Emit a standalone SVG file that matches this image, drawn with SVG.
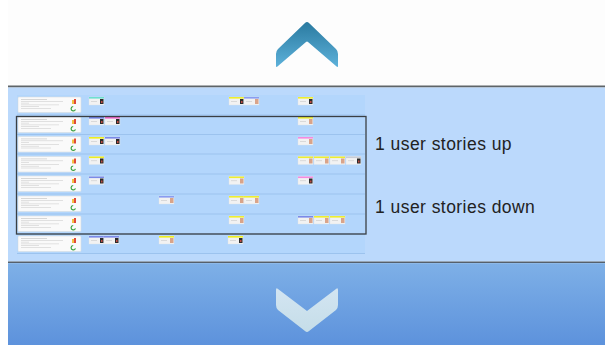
<svg xmlns="http://www.w3.org/2000/svg" xmlns:xlink="http://www.w3.org/1999/xlink" width="605" height="345" viewBox="0 0 605 345">
<style>
.lbl{font-family:"Liberation Sans",Arial,sans-serif;font-size:17.5px;letter-spacing:0.45px;fill:#222}
.row{stroke:#9cc3ee;stroke-width:1}
.tl{fill:#cfcfcf}
</style>
<defs>
<linearGradient id="gUp" x1="0" y1="0" x2="0" y2="1"><stop offset="0" stop-color="#2a7aa0"/><stop offset="1" stop-color="#5db1da"/></linearGradient>
<linearGradient id="gBot" x1="0" y1="0" x2="0" y2="1"><stop offset="0" stop-color="#7eb0e7"/><stop offset="1" stop-color="#5d92dc"/></linearGradient>
<linearGradient id="gDown" x1="0" y1="0" x2="0" y2="1"><stop offset="0" stop-color="#d3e5f2"/><stop offset="1" stop-color="#c5dde8"/></linearGradient>
<symbol id="lc" overflow="visible">
<rect x="0" y="0" width="63" height="15.5" rx="1" fill="#fafafa" stroke="#d8dde3" stroke-width="0.6"/>
<rect class="tl" x="3" y="2" width="26" height="0.8"/>
<rect class="tl" x="3" y="4" width="42" height="0.6"/>
<rect class="tl" x="3" y="5.8" width="8" height="0.6"/>
<rect class="tl" x="3" y="7.6" width="38" height="0.6"/>
<rect class="tl" x="3" y="9.4" width="18" height="0.6"/>
<rect class="tl" x="3" y="11.2" width="30" height="0.6"/>
<rect x="54" y="3" width="2" height="4" fill="#f3c040"/>
<rect x="56" y="2" width="2" height="5" fill="#e04a3a"/>
<path d="M55.2 9.5 a2.2 2.2 0 1 0 2.2 2.8" fill="none" stroke="#3aa040" stroke-width="1.2"/>
</symbol>
<symbol id="cp" overflow="visible">
<rect x="0" y="0" width="15" height="8" fill="#f2f2f2" stroke="#dde3ea" stroke-width="0.4"/>
<rect x="0" y="0" width="15" height="1.6" fill="currentColor"/>
<rect x="2" y="4" width="6" height="0.6" fill="#c8c8c8"/>
<rect x="11" y="2" width="3.5" height="5" fill="#d9a48a"/>
</symbol>
<symbol id="cd" overflow="visible">
<rect x="0" y="0" width="15" height="8" fill="#f2f2f2" stroke="#dde3ea" stroke-width="0.4"/>
<rect x="0" y="0" width="15" height="1.6" fill="currentColor"/>
<rect x="2" y="4" width="6" height="0.6" fill="#c8c8c8"/>
<rect x="11" y="2" width="3.5" height="5" fill="#2b2b2b"/>
<rect x="12" y="4" width="1.5" height="2" fill="#c04a40"/>
</symbol>
</defs>
<rect width="605" height="345" fill="#ffffff"/>
<rect x="8" y="0" width="597" height="86" fill="#fdfdfd"/>
<g id="up-button">
<path d="M278 49 L305 23 Q307 21 309 23 L336 49 Q338 51 338 54 L338 66 Q338 68 336 66 L308 42 Q307 41 306 42 L278 66 Q276 68 276 66 L276 54 Q276 51 278 49 Z" fill="url(#gUp)"/>
</g>
<rect x="8" y="85.5" width="597" height="2" fill="#5e6468"/>
<rect x="8" y="87.5" width="597" height="174" fill="#bbd9fc"/>
<g id="board">
<rect x="17" y="95" width="348" height="159" fill="#b3d6fc"/>
<g class="rows">
<line class="row" x1="17" y1="115" x2="365" y2="115"/>
<line class="row" x1="17" y1="134.5" x2="365" y2="134.5"/>
<line class="row" x1="17" y1="154" x2="365" y2="154"/>
<line class="row" x1="17" y1="174" x2="365" y2="174"/>
<line class="row" x1="17" y1="194" x2="365" y2="194"/>
<line class="row" x1="17" y1="214" x2="365" y2="214"/>
<line class="row" x1="17" y1="234" x2="365" y2="234"/>
<line class="row" x1="17" y1="253.5" x2="365" y2="253.5"/>
</g>
<g id="stories">
<use href="#lc" x="18" y="97"/>
<use href="#lc" x="18" y="117"/>
<use href="#lc" x="18" y="136.5"/>
<use href="#lc" x="18" y="156.5"/>
<use href="#lc" x="18" y="176"/>
<use href="#lc" x="18" y="196"/>
<use href="#lc" x="18" y="216"/>
<use href="#lc" x="18" y="236"/>
</g>
<g id="tasks">
<use href="#cd" x="89" y="97" color="#6fe0cf"/>
<use href="#cd" x="229" y="97" color="#eeee30"/>
<use href="#cp" x="244" y="97" color="#8a9cf0"/>
<use href="#cd" x="298" y="97" color="#eeee30"/>
<use href="#cd" x="89" y="117" color="#6f80e6"/>
<use href="#cd" x="105" y="117" color="#ee66c8"/>
<use href="#cp" x="298" y="117" color="#eeee30"/>
<use href="#cd" x="89" y="137" color="#eeee20"/>
<use href="#cd" x="105" y="137" color="#7b8ae8"/>
<use href="#cp" x="298" y="137" color="#f58ae0"/>
<use href="#cd" x="89" y="156.5" color="#eeee20"/>
<use href="#cp" x="298" y="156.5" color="#eeee30"/>
<use href="#cp" x="314" y="156.5" color="#eeee30"/>
<use href="#cp" x="330" y="156.5" color="#eeee30"/>
<use href="#cd" x="346" y="156.5" color="#c8ccd4"/>
<use href="#cd" x="89" y="176.5" color="#7b8ae8"/>
<use href="#cp" x="229" y="176.5" color="#eeee30"/>
<use href="#cd" x="298" y="176.5" color="#f58ae0"/>
<use href="#cp" x="159" y="196" color="#8a9cf0"/>
<use href="#cp" x="229" y="196" color="#eeee30"/>
<use href="#cp" x="244" y="196" color="#eeee30"/>
<use href="#cp" x="229" y="216" color="#eeee30"/>
<use href="#cp" x="298" y="216" color="#7b8ae8"/>
<use href="#cp" x="314" y="216" color="#eeee30"/>
<use href="#cp" x="330" y="216" color="#eeee30"/>
<use href="#cd" x="89" y="236" color="#7b8ae8"/>
<use href="#cd" x="104" y="236" color="#7b8ae8"/>
<use href="#cp" x="159" y="236" color="#eeee20"/>
<use href="#cd" x="228" y="236" color="#eeee20"/>
</g>
<rect id="selection" x="16.5" y="116.5" width="349.5" height="117.5" fill="none" stroke="#3a3f44" stroke-width="1.3"/>
</g>
<text class="lbl" x="375" y="150">1 user stories up</text>
<text class="lbl" x="375" y="213">1 user stories down</text>
<rect x="8" y="261.5" width="597" height="1.5" fill="#55606c"/>
<rect x="8" y="263" width="597" height="82" fill="url(#gBot)"/>
<rect x="8" y="263" width="597" height="1" fill="#8dbaea"/>
<g id="down-button">
<path d="M278 289 L307 311 L336 289 Q338 287 338 290 L338 305 Q338 308 336 310 L309 331 Q307 333 305 331 L278 310 Q276 308 276 305 L276 290 Q276 287 278 289 Z" fill="url(#gDown)"/>
</g>
</svg>
